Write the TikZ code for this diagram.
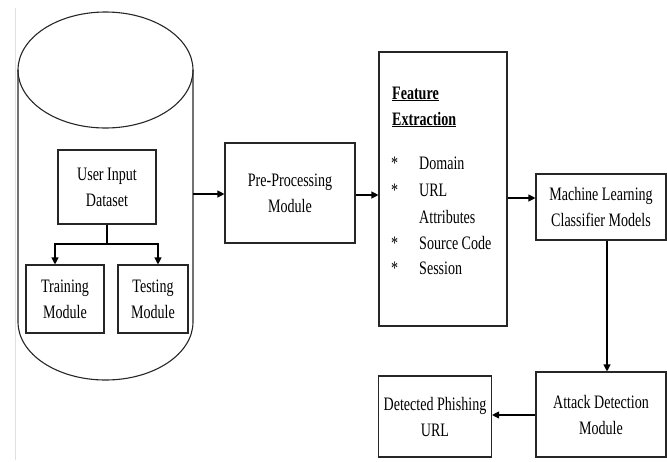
\documentclass[tikz,border=0pt]{standalone}
\usepackage{fontspec}
\setmainfont{Liberation Serif}[FakeStretch=0.74]
\usetikzlibrary{arrows.meta}
\begin{document}
\begin{tikzpicture}[x=1pt,y=-1pt,
  boxst/.style={draw=black!85,line width=1.1pt,align=center,inner sep=0pt,
    font=\fontsize{19}{26}\selectfont},
  arr/.style={draw=black,line width=1.1pt,-{Triangle[length=7pt,width=7pt]}},
  txt/.style={font=\fontsize{19}{26}\selectfont,inner sep=0pt,anchor=base west}]
\useasboundingbox (0,0) rectangle (667,461);
% faint left rule
\draw[black!12,line width=1pt] (15,8) -- (15,460);
% cylinder
\draw[black!85,line width=1.1pt] (105.5,70) ellipse [x radius=87.5,y radius=58];
\draw[black!85,line width=1.1pt] (18,70) -- (18,322) arc[start angle=180,end angle=0,x radius=87.5,y radius=58] -- (193,70);
% nodes
\node[boxst,minimum width=98pt,minimum height=74pt] (uid) at (107,187) {User Input\\Dataset};
\node[boxst,minimum width=78pt,minimum height=68pt] (train) at (65,299) {Training\\Module};
\node[boxst,minimum width=70pt,minimum height=68pt] (test) at (153,299) {Testing\\Module};
\node[boxst,minimum width=130pt,minimum height=100pt] (pre) at (290,193) {Pre-Processing\\Module};
\node[boxst,minimum width=128pt,minimum height=274pt] (feat) at (443,189) {};
\node[boxst,minimum width=130pt,minimum height=66pt] (ml) at (601,207) {Machine Learning\\Classifier Models};
\node[boxst,minimum width=130pt,minimum height=85pt] (att) at (601,414.5) {Attack Detection\\Module};
\node[boxst,minimum width=113pt,minimum height=81pt] (det) at (435,416.5) {Detected Phishing\\URL};
\coordinate (cylR) at (193,194);
% feature text
\node[txt,font=\fontsize{19}{26}\selectfont\bfseries] (f1) at (392,99) {\underline{Feature}};
\node[txt,font=\fontsize{19}{26}\selectfont\bfseries] (f2) at (392,125) {\underline{Extraction}};
\node[txt] (b1) at (391,169) {*};
\node[txt] (b2) at (391,196) {*};
\node[txt] (b3) at (391,249) {*};
\node[txt] (b4) at (391,274) {*};
\node[txt] (i1) at (419,169) {Domain};
\node[txt] (i2) at (419,196) {URL};
\node[txt] (i2b) at (419,223) {Attributes};
\node[txt] (i3) at (419,249) {Source Code};
\node[txt] (i4) at (419,274) {Session};
% connectors
\coordinate (jn) at (107,244);
\draw[black,line width=1.1pt] (uid.south) -- (jn);
\draw[arr] (jn) -| (train.north -| 55,0);
\draw[arr] (jn) -| (test.north -| 158,0);
\draw[arr] (cylR) -- (cylR -| pre.west);
\draw[arr] (pre.east |- 0,195) -- (feat.west |- 0,195);
\draw[arr] (feat.east |- 0,198) -- (ml.west |- 0,198);
\draw[arr] (ml.south -| 607,0) -- (att.north -| 607,0);
\draw[arr] (att.west |- 0,415) -- (det.east |- 0,415);
\end{tikzpicture}
\end{document}
